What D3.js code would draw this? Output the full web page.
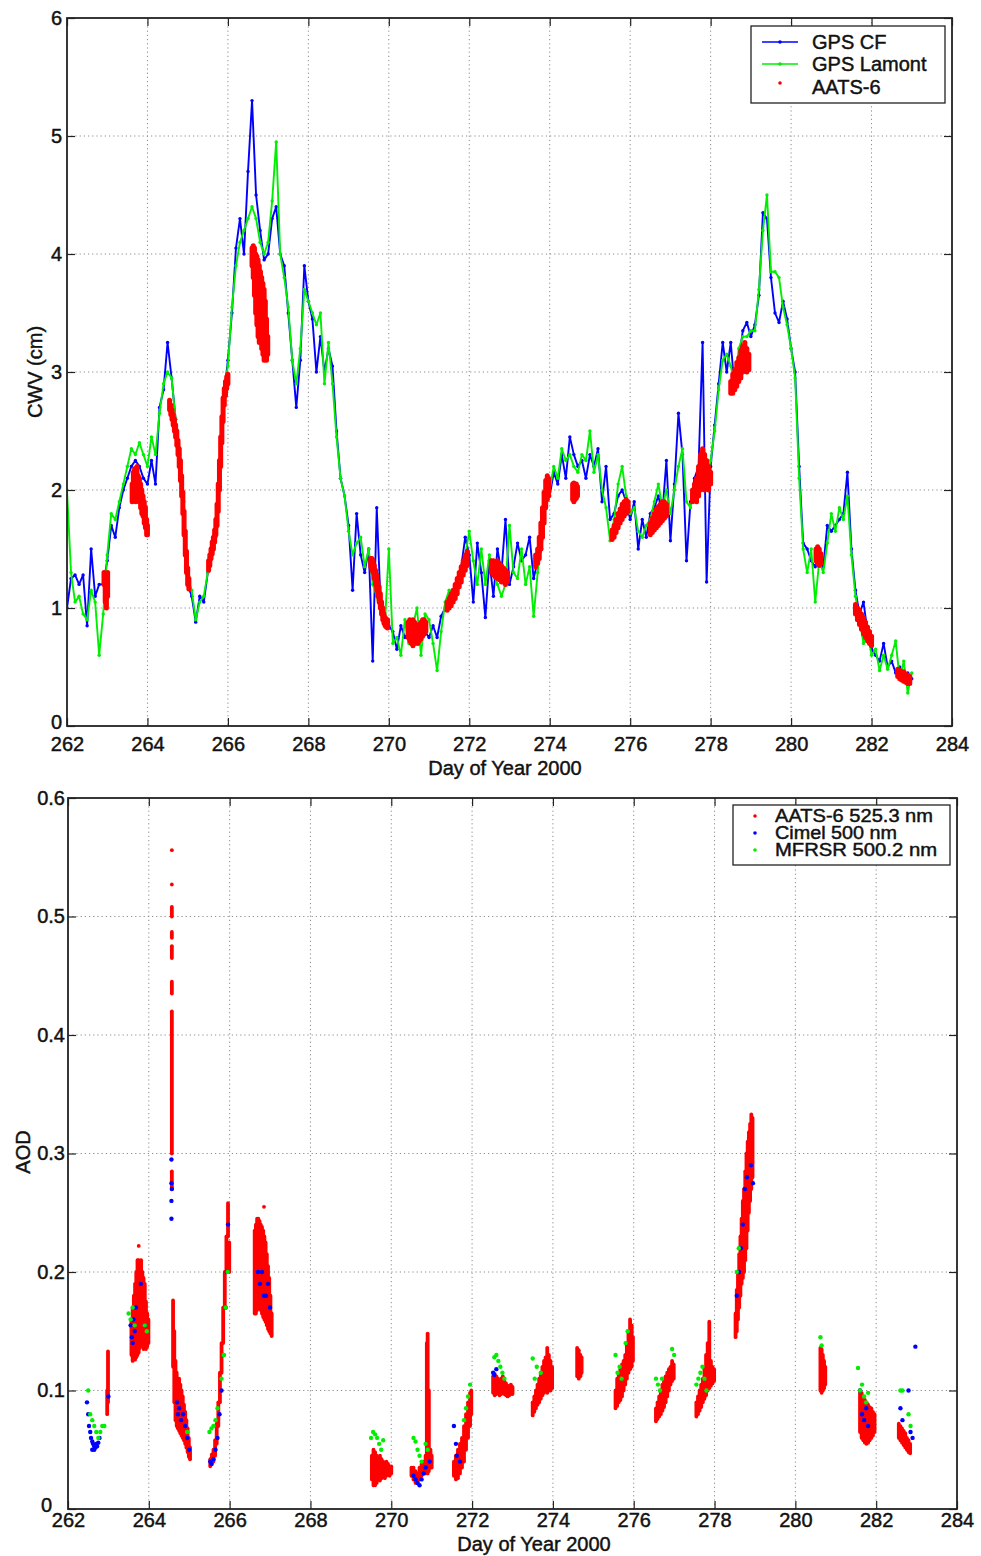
<!DOCTYPE html>
<html><head><meta charset="utf-8">
<script src="https://cdn.jsdelivr.net/npm/d3@7"></script>
<style>
body{margin:0;background:#fff}
svg text{font-family:"Liberation Sans",Arial,Helvetica,sans-serif;stroke:#111;stroke-width:0.45px;paint-order:stroke}
</style>
</head><body>
<svg id="chart" width="981" height="1556"></svg>
<script>
// ---------------- DATA ----------------
const xTickDays = [262,264,266,268,270,272,274,276,278,280,282,284];
const cwvTicks = [0,1,2,3,4,5,6];
const cwvTickLabels = ["0","1","2","3","4","5","6"];
const aodTicks = [0,0.1,0.2,0.3,0.4,0.5,0.6];
const aodTickLabels = ["0","0.1","0.2","0.3","0.4","0.5","0.6"];
const cwvLegend = ["GPS CF","GPS Lamont","AATS-6"];
const aodLegend = ["AATS-6 525.3 nm","Cimel 500 nm","MFRSR 500.2 nm"];

// GPS sampled every 0.1 day from day 262.0 to 283.0 (CWV, cm)
const gpsStartDay = 262.0, gpsStepDay = 0.1;
const gpsCf = [
 1.0,1.25,1.28,1.2,1.28,0.85,1.5,1.1,1.2,1.2,
 1.4,1.7,1.6,1.85,2.0,2.1,2.2,2.25,2.2,2.1,
 2.05,2.25,2.05,2.7,2.85,3.25,2.95,2.6,2.3,1.9,
 1.2,1.1,0.88,1.1,1.05,1.3,1.45,1.65,2.2,2.8,
 3.1,3.5,4.05,4.3,4.0,4.7,5.3,4.5,4.2,3.95,
 4.0,4.3,4.4,4.0,3.9,3.5,3.1,2.7,3.1,3.9,
 3.6,3.45,3.0,3.3,3.0,3.2,3.05,2.5,2.1,1.95,
 1.7,1.15,1.8,1.45,1.3,1.5,0.55,1.85,1.0,0.9,
 0.85,0.8,0.65,0.85,0.75,0.8,0.7,0.85,0.75,0.8,
 0.75,0.85,0.75,0.93,1.0,1.1,1.1,1.2,1.35,1.6,
 1.45,1.05,1.55,1.3,0.92,1.4,1.1,1.5,1.3,1.75,
 1.2,1.35,1.55,1.4,1.45,1.6,1.25,1.4,1.5,2.0,
 1.95,2.15,2.05,2.3,2.1,2.45,2.3,2.2,2.25,2.1,
 2.3,2.2,2.35,1.9,2.2,1.75,1.8,1.95,2.0,1.9,
 1.75,1.9,1.5,1.75,1.6,1.8,1.85,1.95,1.8,2.25,
 1.57,2.05,2.65,2.3,1.4,1.9,2.1,2.2,3.25,1.22,
 2.2,2.55,2.9,3.25,3.0,3.25,2.85,3.1,3.35,3.42,
 3.3,3.4,3.65,4.35,4.3,3.8,3.5,3.42,3.6,3.45,
 3.2,3.0,2.2,1.55,1.5,1.4,1.35,1.5,1.35,1.7,
 1.65,1.7,1.75,1.8,2.15,1.5,1.15,0.95,1.05,0.8,
 0.65,0.6,0.55,0.7,0.5,0.55,0.45,0.5,0.4,0.45,
 0.4];
const gpsLamont = [
 2.0,1.3,1.05,1.1,0.95,0.9,1.15,1.05,0.6,0.95,
 1.45,1.8,1.75,1.9,2.05,2.2,2.35,2.3,2.4,2.3,
 2.2,2.45,2.3,2.65,2.9,3.0,2.95,2.6,2.35,1.85,
 1.25,1.15,0.9,1.05,1.1,1.3,1.5,1.6,2.15,2.85,
 3.05,3.55,3.9,4.1,4.2,4.3,4.4,4.3,4.1,4.0,
 4.1,4.45,4.95,4.0,3.8,3.55,3.1,2.9,3.2,3.7,
 3.6,3.5,3.4,3.5,2.9,3.25,2.9,2.45,2.1,1.95,
 1.65,1.45,1.55,1.6,1.35,1.5,1.2,1.1,0.95,0.85,
 1.5,0.7,0.75,0.6,0.9,0.7,0.85,1.0,0.6,0.95,
 0.9,0.7,0.47,0.8,1.05,1.15,1.1,1.25,1.3,1.45,
 1.65,1.4,1.2,1.5,1.2,1.45,1.3,1.2,1.1,1.2,
 1.7,1.3,1.25,1.5,1.2,1.35,0.93,1.3,1.6,1.95,
 2.0,2.2,2.1,2.35,2.25,2.3,2.2,2.15,2.3,2.25,
 2.5,2.15,2.3,2.0,1.85,1.57,1.75,2.05,2.2,1.95,
 1.8,1.85,1.65,1.6,1.7,1.75,1.9,2.05,1.85,2.0,
 1.8,2.0,2.2,2.35,1.9,1.85,2.05,2.1,2.0,2.1,
 2.25,2.5,2.85,3.1,3.15,3.05,2.9,3.2,3.3,3.3,
 3.35,3.35,3.7,4.2,4.5,3.85,3.85,3.8,3.55,3.4,
 3.2,2.95,2.1,1.5,1.3,1.5,1.05,1.4,1.3,1.55,
 1.8,1.65,1.85,1.75,1.95,1.45,1.1,0.9,0.7,0.8,
 0.6,0.65,0.47,0.6,0.48,0.6,0.72,0.4,0.55,0.28,
 0.45];

// AATS-6 CWV: [day, lowest value, highest value] observed in each short time bin
const aatsCwv = [
 [262.92,1.2,1.3],[262.95,1.05,1.25],[262.98,1.0,1.2],[263.01,1.1,1.3],
 [263.62,1.9,2.05],[263.65,1.95,2.15],[263.68,1.92,2.18],[263.71,1.9,2.15],[263.74,1.95,2.2],[263.77,1.92,2.12],[263.8,1.9,2.1],[263.83,1.85,2.05],[263.86,1.8,2.0],[263.89,1.78,1.95],[263.92,1.72,1.9],[263.95,1.68,1.85],[263.98,1.62,1.75],[264.0,1.62,1.7],
 [264.55,2.68,2.76],[264.58,2.64,2.72],[264.61,2.6,2.68],[264.64,2.55,2.64],[264.67,2.5,2.6],[264.7,2.45,2.55],[264.73,2.38,2.5],[264.76,2.3,2.42],[264.79,2.2,2.35],[264.82,2.08,2.25],[264.85,1.95,2.12],[264.88,1.8,1.98],[264.91,1.62,1.82],[264.94,1.45,1.65],[264.97,1.3,1.48],[265.0,1.2,1.34],[265.03,1.16,1.25],
 [265.52,1.32,1.4],[265.55,1.36,1.45],[265.58,1.42,1.5],[265.61,1.46,1.56],[265.64,1.5,1.6],[265.67,1.56,1.66],[265.7,1.62,1.75],[265.73,1.7,1.88],[265.76,1.82,2.05],[265.79,2.0,2.25],[265.82,2.2,2.45],[265.85,2.4,2.62],[265.88,2.58,2.78],[265.91,2.72,2.86],[265.94,2.8,2.92],[265.97,2.86,2.96],[266.0,2.9,2.98],
 [266.6,3.9,4.05],[266.63,3.8,4.07],[266.66,3.65,4.05],[266.69,3.5,4.0],[266.72,3.4,3.98],[266.75,3.3,3.95],[266.78,3.25,3.9],[266.81,3.3,3.85],[266.84,3.2,3.8],[266.87,3.15,3.75],[266.9,3.1,3.7],[266.93,3.12,3.6],[266.96,3.1,3.45],[266.99,3.15,3.3],
 [269.55,1.35,1.42],[269.58,1.32,1.42],[269.61,1.3,1.4],[269.64,1.25,1.36],[269.67,1.2,1.32],[269.7,1.15,1.28],[269.73,1.1,1.22],[269.76,1.05,1.18],[269.79,1.0,1.12],[269.82,0.95,1.05],[269.85,0.9,1.0],[269.88,0.87,0.95],[269.91,0.85,0.92],[269.94,0.84,0.9],[269.97,0.83,0.9],
 [270.48,0.75,0.88],[270.52,0.72,0.9],[270.56,0.7,0.88],[270.6,0.68,0.9],[270.64,0.7,0.88],[270.68,0.72,0.86],[270.72,0.7,0.84],[270.76,0.72,0.86],[270.8,0.74,0.88],[270.84,0.76,0.9],[270.88,0.78,0.9],[270.92,0.8,0.88],
 [271.45,0.98,1.05],[271.5,1.0,1.08],[271.55,1.02,1.12],[271.6,1.05,1.15],[271.65,1.08,1.2],[271.7,1.12,1.25],[271.75,1.18,1.3],[271.8,1.22,1.35],[271.85,1.28,1.4],[271.9,1.32,1.45],[271.95,1.36,1.48],
 [272.55,1.3,1.4],[272.6,1.28,1.4],[272.65,1.26,1.38],[272.7,1.25,1.4],[272.75,1.24,1.38],[272.8,1.22,1.36],[272.85,1.22,1.34],[272.9,1.2,1.32],[272.95,1.22,1.3],
 [273.65,1.35,1.45],[273.7,1.38,1.5],[273.74,1.42,1.6],[273.78,1.5,1.72],[273.82,1.6,1.85],[273.86,1.72,1.98],[273.9,1.85,2.08],[273.94,1.92,2.12],[273.97,1.95,2.1],
 [274.57,1.92,2.05],[274.6,1.9,2.06],[274.63,1.92,2.04],[274.66,1.93,2.05],[274.69,1.95,2.03],
 [275.55,1.58,1.66],[275.6,1.6,1.7],[275.65,1.64,1.75],[275.7,1.68,1.8],[275.75,1.72,1.84],[275.8,1.75,1.88],[275.85,1.78,1.9],[275.9,1.8,1.92],[275.95,1.82,1.9],
 [276.5,1.62,1.72],[276.55,1.64,1.76],[276.6,1.66,1.8],[276.65,1.68,1.84],[276.7,1.7,1.86],[276.75,1.72,1.88],[276.8,1.74,1.9],[276.85,1.76,1.9],[276.9,1.78,1.88],
 [277.55,1.9,2.0],[277.6,1.92,2.05],[277.65,1.9,2.1],[277.7,1.95,2.2],[277.75,2.0,2.3],[277.8,2.05,2.35],[277.85,2.0,2.3],[277.9,2.05,2.25],[277.95,2.0,2.2],[278.0,2.05,2.15],
 [278.5,2.82,2.92],[278.55,2.82,2.98],[278.6,2.85,3.02],[278.65,2.88,3.08],[278.7,2.92,3.12],[278.75,2.95,3.18],[278.8,3.0,3.22],[278.85,3.02,3.25],[278.9,3.0,3.2],[278.95,3.02,3.15],
 [280.62,1.4,1.5],[280.66,1.38,1.52],[280.7,1.36,1.5],[280.74,1.38,1.46],
 [281.6,0.95,1.03],[281.65,0.9,1.0],[281.7,0.86,0.98],[281.75,0.82,0.95],[281.8,0.78,0.92],[281.85,0.75,0.88],[281.9,0.72,0.84],[281.95,0.7,0.8],[282.0,0.68,0.76],
 [282.65,0.42,0.48],[282.7,0.4,0.47],[282.75,0.39,0.46],[282.8,0.38,0.46],[282.85,0.37,0.44],[282.9,0.36,0.43],[282.95,0.36,0.42]
];

// AATS-6 525.3 nm AOD: [day, lowest value, highest value] per short time bin
const aatsAod = [
 [262.97,0.08,0.1],[262.99,0.09,0.133],
 [263.57,0.13,0.16],[263.6,0.125,0.17],[263.63,0.128,0.18],[263.66,0.126,0.19],[263.69,0.128,0.2],[263.72,0.13,0.21],[263.75,0.132,0.21],[263.78,0.136,0.205],[263.81,0.14,0.21],[263.84,0.138,0.2],[263.87,0.135,0.195],[263.9,0.138,0.19],[263.93,0.135,0.175],[263.96,0.137,0.165],[263.99,0.14,0.16],[263.75,0.222,0.222],
 [264.57,0.3,0.42],[264.57,0.435,0.445],[264.57,0.465,0.475],[264.57,0.482,0.487],[264.57,0.5,0.508],[264.57,0.527,0.527],[264.57,0.556,0.556],[264.57,0.27,0.285],
 [264.6,0.12,0.176],[264.63,0.09,0.15],[264.66,0.075,0.125],[264.69,0.07,0.115],[264.72,0.068,0.11],[264.75,0.066,0.11],[264.78,0.064,0.105],[264.81,0.062,0.1],[264.84,0.06,0.095],[264.87,0.058,0.088],[264.9,0.055,0.082],[264.93,0.052,0.075],[264.96,0.048,0.068],[264.99,0.044,0.06],[265.02,0.042,0.052],
 [265.52,0.036,0.042],[265.56,0.038,0.046],[265.6,0.04,0.05],[265.64,0.045,0.058],[265.68,0.055,0.072],[265.72,0.07,0.09],[265.76,0.09,0.115],[265.8,0.115,0.14],[265.84,0.14,0.17],[265.88,0.17,0.2],[265.92,0.2,0.23],[265.96,0.23,0.258],[265.99,0.2,0.225],
 [266.62,0.165,0.235],[266.65,0.165,0.24],[266.68,0.168,0.245],[266.71,0.17,0.245],[266.74,0.17,0.243],[266.77,0.168,0.24],[266.8,0.165,0.238],[266.83,0.162,0.235],[266.86,0.16,0.23],[266.89,0.158,0.225],[266.92,0.155,0.215],[266.95,0.152,0.205],[266.98,0.15,0.195],[267.01,0.148,0.18],[267.04,0.146,0.165],[266.85,0.255,0.255],
 [269.52,0.025,0.045],[269.56,0.02,0.05],[269.6,0.02,0.048],[269.64,0.022,0.045],[269.68,0.025,0.042],[269.72,0.024,0.045],[269.76,0.026,0.042],[269.8,0.028,0.04],[269.84,0.026,0.038],[269.88,0.028,0.04],[269.92,0.03,0.038],[269.96,0.028,0.036],[270.0,0.03,0.036],
 [270.5,0.028,0.035],[270.55,0.025,0.035],[270.6,0.022,0.032],[270.65,0.022,0.03],[270.7,0.025,0.035],[270.75,0.028,0.038],[270.8,0.03,0.04],[270.85,0.03,0.045],[270.88,0.04,0.14],[270.9,0.03,0.148],[270.93,0.032,0.1],[270.97,0.035,0.05],[271.0,0.035,0.045],
 [271.55,0.028,0.04],[271.6,0.025,0.045],[271.65,0.026,0.05],[271.7,0.03,0.055],[271.75,0.035,0.06],[271.8,0.04,0.07],[271.85,0.05,0.08],[271.9,0.06,0.09],[271.95,0.07,0.098],[271.98,0.08,0.1],
 [272.52,0.098,0.112],[272.56,0.096,0.114],[272.6,0.097,0.112],[272.64,0.098,0.11],[272.68,0.096,0.108],[272.72,0.097,0.11],[272.76,0.098,0.112],[272.8,0.097,0.108],[272.84,0.096,0.106],[272.88,0.095,0.104],[272.92,0.096,0.103],[272.96,0.097,0.105],[273.0,0.097,0.103],
 [273.5,0.079,0.09],[273.54,0.082,0.095],[273.58,0.085,0.1],[273.62,0.088,0.105],[273.66,0.09,0.11],[273.7,0.093,0.115],[273.74,0.096,0.12],[273.78,0.098,0.125],[273.82,0.1,0.128],[273.86,0.098,0.136],[273.9,0.1,0.13],[273.94,0.1,0.125],[273.98,0.102,0.12],
 [274.6,0.112,0.136],[274.64,0.11,0.134],[274.68,0.112,0.13],[274.71,0.115,0.128],
 [275.55,0.085,0.1],[275.59,0.087,0.11],[275.63,0.09,0.115],[275.67,0.092,0.118],[275.71,0.095,0.122],[275.75,0.1,0.125],[275.79,0.105,0.13],[275.83,0.11,0.14],[275.87,0.115,0.15],[275.91,0.118,0.16],[275.95,0.12,0.155],[275.98,0.125,0.145],
 [276.55,0.074,0.085],[276.59,0.076,0.09],[276.63,0.078,0.095],[276.67,0.08,0.1],[276.71,0.083,0.105],[276.75,0.086,0.108],[276.79,0.09,0.112],[276.83,0.095,0.115],[276.87,0.1,0.118],[276.91,0.105,0.12],[276.95,0.108,0.125],[276.99,0.11,0.122],
 [277.55,0.078,0.09],[277.59,0.08,0.095],[277.63,0.083,0.1],[277.67,0.086,0.105],[277.71,0.09,0.11],[277.75,0.093,0.118],[277.79,0.096,0.13],[277.83,0.1,0.14],[277.87,0.102,0.158],[277.91,0.104,0.125],[277.95,0.106,0.12],[277.99,0.108,0.118],
 [278.52,0.145,0.165],[278.55,0.15,0.185],[278.58,0.16,0.2],[278.61,0.17,0.215],[278.64,0.18,0.23],[278.67,0.19,0.245],[278.7,0.195,0.26],[278.73,0.2,0.27],[278.76,0.21,0.285],[278.79,0.22,0.3],[278.82,0.235,0.31],[278.85,0.25,0.318],[278.88,0.26,0.325],[278.91,0.27,0.333],[278.94,0.28,0.33],
 [280.62,0.1,0.136],[280.65,0.098,0.135],[280.68,0.1,0.13],[280.71,0.102,0.125],[280.74,0.105,0.12],
 [281.6,0.065,0.1],[281.64,0.06,0.098],[281.68,0.058,0.095],[281.72,0.056,0.092],[281.76,0.055,0.09],[281.8,0.056,0.088],[281.84,0.058,0.086],[281.88,0.06,0.085],[281.92,0.062,0.082],[281.96,0.065,0.08],
 [282.56,0.06,0.072],[282.6,0.058,0.07],[282.64,0.056,0.068],[282.68,0.054,0.066],[282.72,0.052,0.064],[282.76,0.05,0.06],[282.8,0.048,0.058],[282.84,0.047,0.055]
];

// Cimel 500 nm AOD points [day, value]
const cimelAod = [
 [262.47,0.09],[262.5,0.08],[262.52,0.07],[262.55,0.065],[262.57,0.06],[262.6,0.057],[262.62,0.055],[262.65,0.053],[262.68,0.052],[262.7,0.055],[262.72,0.053],[262.75,0.056],[262.78,0.06],[262.6,0.05],[262.65,0.05],[263.0,0.095],
 [263.55,0.155],[263.58,0.145],[263.6,0.14],[263.62,0.16],[263.65,0.15],[263.68,0.17],[263.8,0.19],[263.9,0.155],
 [264.56,0.295],[264.56,0.275],[264.56,0.26],[264.56,0.245],[264.57,0.27],
 [264.7,0.09],[264.72,0.08],[264.75,0.085],[264.8,0.075],[264.85,0.08],[264.9,0.07],[264.95,0.06],[265.0,0.05],
 [265.52,0.04],[265.55,0.038],[265.6,0.042],[265.65,0.05],[265.7,0.06],[265.75,0.08],[265.8,0.1],[265.85,0.13],[265.9,0.17],[265.93,0.2],[265.96,0.24],
 [266.7,0.2],[266.75,0.19],[266.8,0.2],[266.85,0.18],[266.9,0.18],[266.95,0.19],[267.0,0.17],
 [270.55,0.028],[270.6,0.025],[270.65,0.022],[270.7,0.02],[270.75,0.025],[270.8,0.03],[270.85,0.035],[270.95,0.04],
 [271.55,0.07],[271.6,0.055],[271.62,0.045],[271.7,0.04],
 [272.52,0.115],[272.55,0.113],[272.6,0.118],
 [278.55,0.18],[278.6,0.2],[278.65,0.22],[278.7,0.24],[278.75,0.27],[278.8,0.28],[278.9,0.29],[278.95,0.275],
 [281.6,0.1],[281.65,0.08],[281.7,0.075],[281.75,0.085],[281.8,0.07],
 [282.6,0.085],[282.65,0.075],[282.8,0.1],[282.85,0.065],[282.9,0.06],[282.97,0.137]
];

// MFRSR 500.2 nm AOD points [day, value]
const mfrsrAod = [
 [262.5,0.1],[262.55,0.08],[262.6,0.075],[262.65,0.07],[262.7,0.065],[262.75,0.06],[262.8,0.065],[262.85,0.07],[262.9,0.07],
 [263.5,0.165],[263.55,0.16],[263.6,0.17],[263.65,0.155],[263.9,0.155],[263.95,0.15],
 [264.95,0.065],
 [265.5,0.065],[265.55,0.068],[265.6,0.07],[265.65,0.075],[265.7,0.085],[265.8,0.11],[265.85,0.13],[265.9,0.17],[265.95,0.2],
 [269.5,0.06],[269.55,0.065],[269.6,0.063],[269.65,0.06],[269.7,0.055],[269.75,0.05],[269.8,0.058],
 [270.55,0.06],[270.6,0.057],[270.65,0.05],[270.7,0.045],[270.75,0.04],[270.85,0.055],[270.9,0.05],
 [271.8,0.075],[271.85,0.085],[271.9,0.095],[271.95,0.105],
 [272.55,0.128],[272.6,0.13],[272.65,0.125],[272.7,0.12],[272.75,0.115],[272.8,0.11],
 [273.5,0.127],[273.55,0.11],[273.6,0.12],[273.7,0.115],
 [275.55,0.13],[275.6,0.115],[275.65,0.12],[275.7,0.11],[275.8,0.14],[275.85,0.15],
 [276.55,0.11],[276.6,0.105],[276.65,0.1],[276.7,0.11],[276.95,0.135],[277.0,0.13],
 [277.55,0.105],[277.6,0.11],[277.65,0.115],[277.7,0.12],[277.75,0.11],[277.8,0.1],
 [278.55,0.2],[278.6,0.22],
 [280.62,0.145],[280.65,0.138],
 [281.55,0.119],[281.6,0.1],[281.65,0.105],[281.7,0.095],[281.75,0.09],[281.8,0.098],
 [282.6,0.1],[282.65,0.1],[282.8,0.08],[282.85,0.07]
];

// ---------------- DRAWING ----------------
const BLUE = "#0000ff", GREEN = "#00ee00", RED = "#ff0000";
const FONT = '"Liberation Sans", Arial, Helvetica, sans-serif';
const svg = d3.select("#chart");

function drawFrame(cfg) {
  const g = svg.append("g");
  const x = d3.scaleLinear().domain([262, 284]).range([cfg.left, cfg.right]);
  const y = d3.scaleLinear().domain([cfg.yTicks[0], cfg.yTicks[cfg.yTicks.length - 1]]).range([cfg.bottom, cfg.top]);
  const grid = g.append("g").attr("stroke", "#8c8c8c").attr("stroke-width", 1).attr("stroke-dasharray", "1.2,3");
  grid.selectAll("line.v").data(xTickDays.slice(1, -1)).join("line").attr("class", "v")
    .attr("x1", d => x(d)).attr("x2", d => x(d)).attr("y1", cfg.top).attr("y2", cfg.bottom);
  grid.selectAll("line.h").data(cfg.yTicks.slice(1, -1)).join("line").attr("class", "h")
    .attr("x1", cfg.left).attr("x2", cfg.right).attr("y1", d => y(d)).attr("y2", d => y(d));
  const clipId = "clip" + cfg.id;
  svg.append("clipPath").attr("id", clipId).append("rect")
    .attr("x", cfg.left).attr("y", cfg.top).attr("width", cfg.right - cfg.left).attr("height", cfg.bottom - cfg.top);
  const data = g.append("g").attr("clip-path", `url(#${clipId})`);
  return {g, x, y, data};
}

function drawAxes(p, cfg) {
  const {g, x, y} = p;
  const styleAxis = sel => {
    sel.attr("font-family", FONT).attr("font-size", 20);
    sel.select(".domain").remove();
    sel.selectAll(".tick line").attr("stroke", "#222").attr("stroke-width", 1.2);
    sel.selectAll(".tick text").attr("fill", "#111");
  };
  g.append("g").attr("transform", `translate(0,${cfg.bottom})`)
    .call(d3.axisBottom(x).tickValues(xTickDays).tickSize(-8).tickSizeOuter(0).tickPadding(cfg.xPad).tickFormat(d3.format("d")))
    .call(styleAxis);
  g.append("g").attr("transform", `translate(0,${cfg.top})`)
    .call(d3.axisTop(x).tickValues(xTickDays).tickSize(-8).tickSizeOuter(0).tickFormat(""))
    .call(styleAxis);
  const yAx = g.append("g").attr("transform", `translate(${cfg.left},0)`)
    .call(d3.axisLeft(y).tickValues(cfg.yTicks).tickSize(-8).tickSizeOuter(0).tickPadding(cfg.yPad)
      .tickFormat((d, i) => cfg.yLabels[i]))
    .call(styleAxis);
  // zero label sits slightly apart from the others, as in the reference
  yAx.selectAll(".tick text").filter(d => d === 0)
    .attr("dx", cfg.zeroDx).attr("dy", cfg.zeroDy);
  g.append("g").attr("transform", `translate(${cfg.right},0)`)
    .call(d3.axisRight(y).tickValues(cfg.yTicks).tickSize(-8).tickSizeOuter(0).tickFormat(""))
    .call(styleAxis);
  g.append("rect").attr("x", cfg.left).attr("y", cfg.top)
    .attr("width", cfg.right - cfg.left).attr("height", cfg.bottom - cfg.top)
    .attr("fill", "none").attr("stroke", "#222").attr("stroke-width", 1.8);
  g.append("text").attr("x", cfg.xLabelX).attr("y", cfg.xLabelY).attr("text-anchor", "middle")
    .attr("font-size", 20).attr("font-family", FONT).attr("fill", "#111").text("Day of Year 2000");
  g.append("text").attr("transform", `translate(${cfg.yLabelX},${cfg.yLabelY}) rotate(-90)`)
    .attr("text-anchor", "middle").attr("font-size", 20).attr("font-family", FONT).attr("fill", "#111").text(cfg.yTitle);
}

// ----- Top panel: CWV -----
const topCfg = {id: "t", left: 67, right: 952, top: 18, bottom: 726, yTicks: cwvTicks, yLabels: cwvTickLabels,
  xPad: 11, yPad: 5, zeroDx: 0, zeroDy: "0.12em", xLabelX: 505, xLabelY: 775, yLabelX: 42, yLabelY: 372, yTitle: "CWV (cm)"};
const topPanel = drawFrame(topCfg);
const gpsDay = i => gpsStartDay + i * gpsStepDay;
const gpsLine = d3.line().x((d, i) => topPanel.x(gpsDay(i))).y(d => topPanel.y(d));
[[gpsCf, BLUE], [gpsLamont, GREEN]].forEach(([series, col]) => {
  topPanel.data.append("path").datum(series).attr("d", gpsLine).attr("fill", "none")
    .attr("stroke", col).attr("stroke-width", 1.9).attr("stroke-linejoin", "round");
  topPanel.data.append("g").selectAll("circle").data(series).join("circle")
    .attr("cx", (d, i) => topPanel.x(gpsDay(i))).attr("cy", d => topPanel.y(d)).attr("r", 1.7).attr("fill", col);
});
topPanel.data.append("g").selectAll("line").data(aatsCwv).join("line")
  .attr("x1", d => topPanel.x(d[0])).attr("x2", d => topPanel.x(d[0]))
  .attr("y1", d => topPanel.y(d[1])).attr("y2", d => topPanel.y(d[2]))
  .attr("stroke", RED).attr("stroke-width", 5).attr("stroke-linecap", "round");
drawAxes(topPanel, topCfg);

// top legend
{
  const lg = svg.append("g");
  lg.append("rect").attr("x", 751).attr("y", 26).attr("width", 194).attr("height", 77)
    .attr("fill", "#fff").attr("stroke", "#222").attr("stroke-width", 1.3);
  const rows = [42, 64, 87];
  const cols = [BLUE, GREEN, RED];
  cwvLegend.forEach((name, i) => {
    if (i < 2) {
      lg.append("line").attr("x1", 762).attr("x2", 798).attr("y1", rows[i]).attr("y2", rows[i])
        .attr("stroke", cols[i]).attr("stroke-width", 1.6);
    }
    lg.append("circle").attr("cx", 780).attr("cy", i < 2 ? rows[i] : rows[i] - 4).attr("r", 1.8).attr("fill", cols[i]);
    lg.append("text").attr("x", 812).attr("y", rows[i] + 7).attr("font-size", 20).attr("font-family", FONT)
      .attr("fill", "#111").text(name);
  });
}

// ----- Bottom panel: AOD -----
const botCfg = {id: "b", left: 68, right: 957, top: 798, bottom: 1509, yTicks: aodTicks, yLabels: aodTickLabels,
  xPad: 4, yPad: 3, zeroDx: -13, zeroDy: "0.1em", xLabelX: 534, xLabelY: 1551, yLabelX: 30, yLabelY: 1152, yTitle: "AOD"};
const botPanel = drawFrame(botCfg);
botPanel.data.append("g").selectAll("line").data(aatsAod).join("line")
  .attr("x1", d => botPanel.x(d[0])).attr("x2", d => botPanel.x(d[0]))
  .attr("y1", d => botPanel.y(d[1])).attr("y2", d => botPanel.y(d[2]))
  .attr("stroke", RED).attr("stroke-width", 3.8).attr("stroke-linecap", "round");
botPanel.data.append("g").selectAll("circle").data(cimelAod).join("circle")
  .attr("cx", d => botPanel.x(d[0])).attr("cy", d => botPanel.y(d[1])).attr("r", 2.2).attr("fill", BLUE);
botPanel.data.append("g").selectAll("circle").data(mfrsrAod).join("circle")
  .attr("cx", d => botPanel.x(d[0])).attr("cy", d => botPanel.y(d[1])).attr("r", 2.2).attr("fill", GREEN);
drawAxes(botPanel, botCfg);

// bottom legend
{
  const lg = svg.append("g");
  lg.append("rect").attr("x", 733).attr("y", 805).attr("width", 217).attr("height", 60)
    .attr("fill", "#fff").attr("stroke", "#222").attr("stroke-width", 1.3);
  const rows = [816, 833, 850];
  const cols = [RED, BLUE, GREEN];
  aodLegend.forEach((name, i) => {
    lg.append("circle").attr("cx", 755).attr("cy", rows[i]).attr("r", 1.8).attr("fill", cols[i]);
    lg.append("text").attr("x", 775).attr("y", rows[i] + 6).attr("font-size", 18)
      .attr("textLength", 160).attr("lengthAdjust", "spacingAndGlyphs")
      .attr("font-family", FONT).attr("fill", "#111").text(name)
      .attr("textLength", i === 1 ? 122 : (i === 0 ? 158 : 162));
  });
}
</script>
</body></html>
